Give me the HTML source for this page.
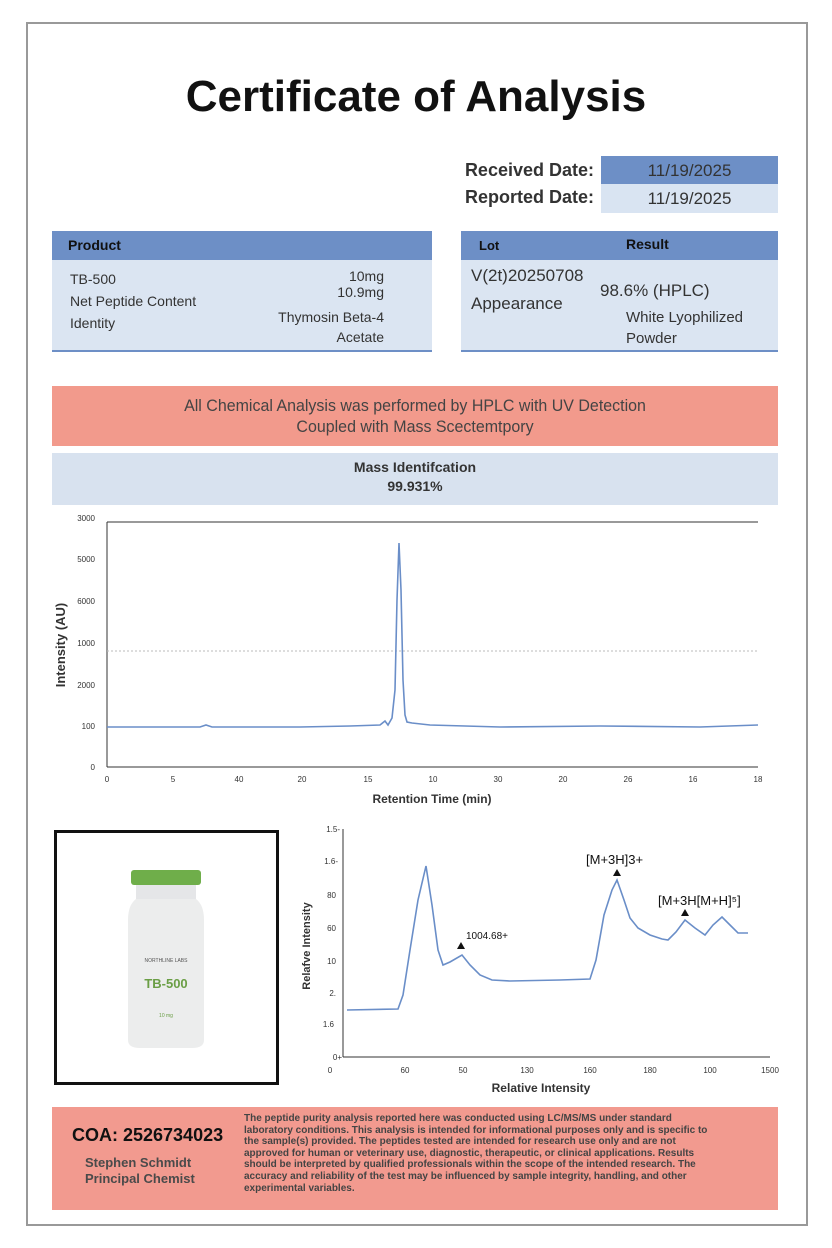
<!DOCTYPE html>
<html><head><meta charset="utf-8"><style>
body{margin:0;width:832px;height:1248px;background:#fff;font-family:"Liberation Sans",sans-serif;position:relative;overflow:hidden}
.a{position:absolute}
</style></head><body>
<div class="a" style="left:26px;top:22px;width:778px;height:1200px;border:2px solid #999"></div>
<div class="a" style="left:0;width:832px;top:72px;text-align:center;font-size:44px;font-weight:bold;color:#111">Certificate of Analysis</div>
<div class="a" style="left:440px;width:154px;top:160px;text-align:right;font-size:18px;font-weight:bold;color:#333">Received Date:</div>
<div class="a" style="left:440px;width:154px;top:187px;text-align:right;font-size:18px;font-weight:bold;color:#333">Reported Date:</div>
<div class="a" style="left:601px;top:156px;width:177px;height:28px;background:#6d8fc6;color:#333;font-size:17px;line-height:30px;text-align:center">11/19/2025</div>
<div class="a" style="left:601px;top:184px;width:177px;height:29px;background:#d9e4f2;color:#333;font-size:17px;line-height:30px;text-align:center">11/19/2025</div>

<div class="a" style="left:52px;top:231px;width:380px;height:119px;background:#dbe5f2;border-bottom:2px solid #6d8fc6"></div>
<div class="a" style="left:52px;top:231px;width:380px;height:29px;background:#6d8fc6"></div>
<div class="a" style="left:68px;top:237px;font-size:14px;font-weight:bold;color:#111">Product</div>
<div class="a" style="left:70px;top:268px;font-size:14px;color:#333;line-height:22px">TB-500<br>Net Peptide Content<br>Identity</div>
<div class="a" style="right:448px;top:268px;font-size:14px;color:#333;text-align:right;line-height:16px">10mg<br>10.9mg</div>
<div class="a" style="right:448px;top:307px;font-size:14px;color:#333;text-align:right;line-height:20px">Thymosin Beta-4<br>Acetate</div>

<div class="a" style="left:461px;top:231px;width:317px;height:119px;background:#dbe5f2;border-bottom:2px solid #6d8fc6"></div>
<div class="a" style="left:461px;top:231px;width:317px;height:29px;background:#6d8fc6"></div>
<div class="a" style="left:479px;top:238px;font-size:13px;font-weight:bold;color:#111">Lot</div>
<div class="a" style="left:626px;top:236px;font-size:14px;font-weight:bold;color:#111">Result</div>
<div class="a" style="left:471px;top:262px;font-size:17px;color:#333;line-height:28px">V(2t)20250708<br>Appearance</div>
<div class="a" style="left:600px;top:281px;font-size:17px;color:#333">98.6% (HPLC)</div>
<div class="a" style="left:626px;top:307px;font-size:15px;color:#333;line-height:21px">White Lyophilized<br>Powder</div>

<div class="a" style="left:52px;top:386px;width:726px;height:60px;background:#f29a8c;"></div>
<div class="a" style="left:52px;top:395px;width:726px;text-align:center;color:#444;font-size:17px;line-height:21px;transform:scaleX(0.94);transform-origin:center">All Chemical Analysis was performed by HPLC with UV Detection<br>Coupled with Mass Scectemtpory</div>
<div class="a" style="left:52px;top:453px;width:726px;height:52px;background:#d8e2ef;text-align:center;color:#333;font-size:14px;font-weight:bold;line-height:19px;padding-top:5px;box-sizing:border-box">Mass Identifcation<br>99.931%</div>

<svg class="a" style="left:0;top:0" width="832" height="1248" font-family="Liberation Sans,sans-serif">
<g stroke="#333" stroke-width="1" fill="none">
<line x1="107" y1="522" x2="758" y2="522"/>
<line x1="107" y1="522" x2="107" y2="767"/>
<line x1="107" y1="767" x2="758" y2="767"/>
</g>
<line x1="107" y1="651" x2="758" y2="651" stroke="#bbb" stroke-dasharray="2,2"/>
<g font-size="8" fill="#333" text-anchor="end">
<text x="95" y="521">3000</text><text x="95" y="562">5000</text><text x="95" y="604">6000</text><text x="95" y="646">1000</text><text x="95" y="688">2000</text><text x="95" y="729">100</text><text x="95" y="770">0</text>
</g>
<g font-size="8" fill="#333" text-anchor="middle">
<text x="107" y="782">0</text><text x="173" y="782">5</text><text x="239" y="782">40</text><text x="302" y="782">20</text><text x="368" y="782">15</text><text x="433" y="782">10</text><text x="498" y="782">30</text><text x="563" y="782">20</text><text x="628" y="782">26</text><text x="693" y="782">16</text><text x="758" y="782">18</text>
</g>
<text x="432" y="803" font-size="12" font-weight="bold" fill="#333" text-anchor="middle">Retention Time (min)</text>
<text x="65" y="645" font-size="13" font-weight="bold" fill="#333" text-anchor="middle" transform="rotate(-90 65 645)">Intensity (AU)</text>
<path d="M107 727 L200 727 L206 725 L212 727 L300 727 L350 726 L380 725 L385 721 L388 725 L392 718 L395 690 L397 600 L399 543 L401 590 L403 680 L405 715 L407 722 L412 723 L430 725 L500 727 L600 726 L700 727 L758 725" fill="none" stroke="#6a8ec8" stroke-width="1.6"/>

<g stroke="#333" stroke-width="1" fill="none">
<line x1="343" y1="829" x2="343" y2="1057"/>
<line x1="343" y1="1057" x2="770" y2="1057"/>
</g>
<g font-size="8" fill="#333" text-anchor="end">
<text x="340" y="832">1.5-</text><text x="338" y="864">1.6-</text><text x="336" y="898">80</text><text x="336" y="931">60</text><text x="336" y="964">10</text><text x="336" y="996">2.</text><text x="334" y="1027">1.6</text><text x="342" y="1060">0+</text>
</g>
<g font-size="8" fill="#333" text-anchor="middle">
<text x="330" y="1073">0</text><text x="405" y="1073">60</text><text x="463" y="1073">50</text><text x="527" y="1073">130</text><text x="590" y="1073">160</text><text x="650" y="1073">180</text><text x="710" y="1073">100</text><text x="770" y="1073">1500</text>
</g>
<text x="541" y="1092" font-size="12" font-weight="bold" fill="#333" text-anchor="middle">Relative Intensity</text>
<text x="310" y="946" font-size="11" font-weight="bold" fill="#333" text-anchor="middle" transform="rotate(-90 310 946)">Relafve Intensity</text>
<path d="M347 1010 L398 1009 L403 995 L410 950 L418 900 L426 866 L432 905 L438 950 L443 965 L450 962 L462 955 L470 965 L480 975 L492 980 L510 981 L560 980 L590 979 L596 960 L604 915 L612 890 L617 880 L624 900 L630 918 L638 928 L650 935 L662 939 L668 940 L676 932 L685 920 L695 928 L705 935 L713 925 L722 917 L730 925 L738 933 L748 933" fill="none" stroke="#6a8ec8" stroke-width="1.6"/>
<g fill="#111"><path d="M457 949 L461 942 L465 949Z"/><path d="M613 876 L617 869 L621 876Z"/><path d="M681 916 L685 909 L689 916Z"/></g>
<g font-size="10" fill="#111"><text x="466" y="939">1004.68+</text></g>
<g font-size="13" fill="#111"><text x="586" y="864">[M+3H]3+</text><text x="658" y="905">[M+3H[M+H]⁵]</text></g>

<rect x="55.5" y="831.5" width="222" height="252" fill="#fff" stroke="#111" stroke-width="3"/>
<rect x="131" y="870" width="70" height="15" rx="3" fill="#6fae4a"/>
<rect x="136" y="885" width="60" height="14" fill="#e5e6e8"/>
<path d="M136 899 Q128 905 128 920 L128 1040 Q128 1048 140 1048 L192 1048 Q204 1048 204 1040 L204 920 Q204 905 196 899Z" fill="#eceded"/>
<text x="166" y="962" font-size="5" fill="#555" text-anchor="middle">NORTHLINE LABS</text>
<text x="166" y="988" font-size="13" font-weight="bold" fill="#6a9e45" text-anchor="middle">TB-500</text>
<text x="166" y="1017" font-size="5" fill="#6a9e45" text-anchor="middle">10 mg</text>
</svg>

<div class="a" style="left:52px;top:1107px;width:726px;height:103px;background:#f29a8f"></div>
<div class="a" style="left:72px;top:1125px;font-size:18px;font-weight:bold;color:#111">COA: 2526734023</div>
<div class="a" style="left:85px;top:1155px;font-size:13px;font-weight:bold;color:#4a4a4a;line-height:16px">Stephen Schmidt<br>Principal Chemist</div>
<div class="a" style="left:244px;top:1113px;width:472px;font-size:10px;font-weight:bold;color:#444;line-height:11.6px">The peptide purity analysis reported here was conducted using LC/MS/MS under standard laboratory conditions. This analysis is intended for informational purposes only and is specific to the sample(s) provided. The peptides tested are intended for research use only and are not approved for human or veterinary use, diagnostic, therapeutic, or clinical applications. Results should be interpreted by qualified professionals within the scope of the intended research. The accuracy and reliability of the test may be influenced by sample integrity, handling, and other experimental variables.</div>
</body></html>
